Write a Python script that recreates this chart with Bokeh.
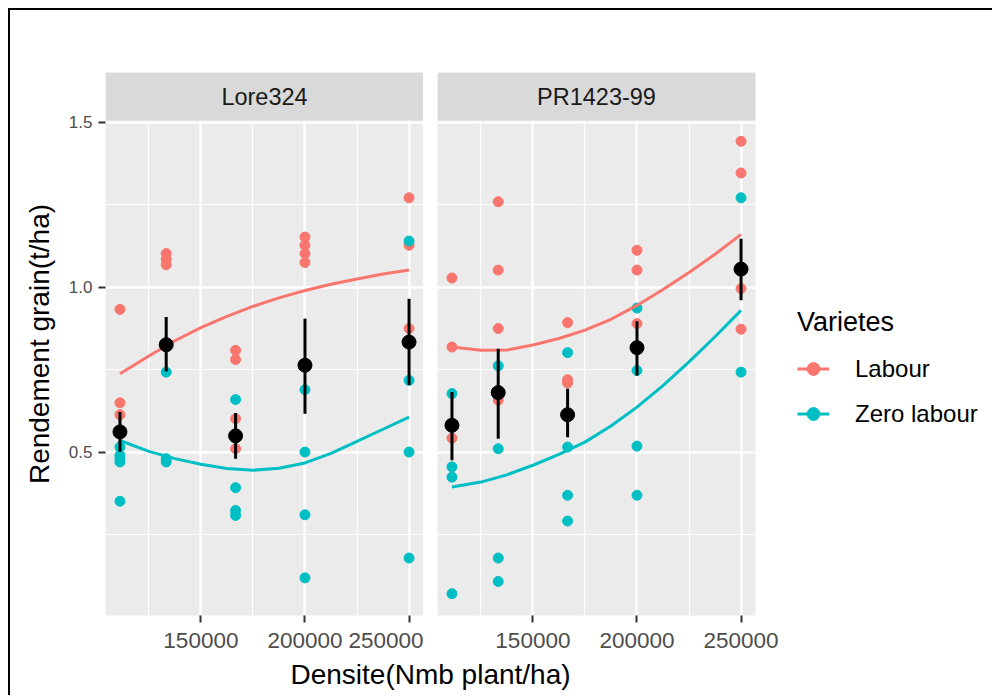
from bokeh.plotting import figure
from bokeh.models import Range1d, FixedTicker, BoxAnnotation, Label, Legend, LegendItem
from bokeh.layouts import row, column
from bokeh.embed import file_html
from bokeh.resources import INLINE

# ---------------- data ----------------
DENS = [111111, 133333, 166667, 200000, 250000]

LORE_LABOUR = [[0.933, 0.650, 0.614],
               [1.102, 1.085, 1.068],
               [0.809, 0.781, 0.602, 0.511],
               [1.152, 1.127, 1.102, 1.075],
               [1.271, 1.127, 0.875]]
LORE_ZERO = [[0.516, 0.491, 0.481, 0.471, 0.352],
             [0.819, 0.743, 0.481, 0.471],
             [0.660, 0.393, 0.324, 0.309],
             [0.690, 0.501, 0.311, 0.120],
             [1.140, 0.718, 0.501, 0.180]]
LORE_MEAN = [0.562, 0.826, 0.550, 0.764, 0.834]
LORE_LO = [0.502, 0.745, 0.481, 0.617, 0.704]
LORE_HI = [0.622, 0.910, 0.619, 0.905, 0.965]

PR_LABOUR = [[1.028, 0.819, 0.543],
             [1.259, 1.052, 0.875, 0.658],
             [0.893, 0.720, 0.710],
             [1.112, 1.052, 0.890],
             [1.442, 1.346, 0.996, 0.873]]
PR_ZERO = [[0.678, 0.456, 0.425, 0.072],
           [0.762, 0.511, 0.180, 0.109],
           [0.802, 0.516, 0.370, 0.292],
           [0.937, 0.748, 0.519, 0.370],
           [1.271, 0.743]]
PR_MEAN = [0.582, 0.681, 0.614, 0.817, 1.055]
PR_LO = [0.476, 0.541, 0.546, 0.733, 0.961]
PR_HI = [0.683, 0.814, 0.693, 0.897, 1.147]

SMOOTH_X = [111111, 125000, 137500, 150000, 162500, 175000, 187500,
            200000, 212500, 225000, 237500, 250000]
LORE_SMOOTH_LABOUR = [0.738, 0.792, 0.838, 0.878, 0.912, 0.942, 0.968,
                      0.990, 1.009, 1.025, 1.040, 1.052]
LORE_SMOOTH_ZERO = [0.536, 0.503, 0.481, 0.464, 0.451, 0.446, 0.452,
                    0.468, 0.497, 0.533, 0.570, 0.607]
PR_SMOOTH_LABOUR = [0.819, 0.809, 0.810, 0.825, 0.845, 0.870, 0.903,
                    0.945, 0.993, 1.045, 1.100, 1.160]
PR_SMOOTH_ZERO = [0.395, 0.410, 0.432, 0.461, 0.494, 0.531, 0.580,
                  0.637, 0.702, 0.774, 0.850, 0.930]

PANELS = ["Lore324", "PR1423-99"]
VARIETES = ["Labour", "Zero labour"]
X_TICKS = [150000, 200000, 250000]
X_TICK_LABELS = ["150000", "200000", "250000"]
X_MINOR = [125000, 175000, 225000]
Y_TICKS = [0.5, 1.0, 1.5]
Y_TICK_LABELS = ["0.5", "1.0", "1.5"]
Y_MINOR = [0.25, 0.75, 1.25]

# ---------------- style / layout ----------------
FONT = "Liberation Sans"
RED = "#F8766D"
TEAL = "#00BFC4"
PANEL_BG = "#EBEBEB"
STRIP_BG = "#D9D9D9"

X_LO, X_HI = 104167, 256944
Y_LO, Y_HI = 0.006, 1.505
FRAME_W = 318
PANEL_H = 495
STRIP_H = 48
FRAME_H = PANEL_H + STRIP_H
TOP_B = 62
BOT_B = 44
Y_TOP = Y_HI + (Y_HI - Y_LO) * STRIP_H / PANEL_H
XPX = (X_HI - X_LO) / FRAME_W
YPX = (Y_TOP - Y_LO) / FRAME_H

# legend placement (px, relative to the legend side panel, bottom-left)
LEG_X = 42
LEG_Y = 179
KEY_W = 32
KEY_H = 45
KEY_BOX_W = 43
LABEL_W = 175


def expand(groups):
    xs, ys = [], []
    for d, vals in zip(DENS, groups):
        for v in vals:
            xs.append(d)
            ys.append(v)
    return xs, ys


def make_panel(name, labour, zero, sm_lab, sm_zero, mean, lo, hi, first):
    left_b = 95 if first else 14
    p = figure(frame_width=FRAME_W, frame_height=FRAME_H,
               x_range=Range1d(X_LO, X_HI), y_range=Range1d(Y_LO, Y_TOP),
               output_backend="svg", toolbar_location=None, title=None,
               min_border_left=left_b, min_border_right=0,
               min_border_top=TOP_B, min_border_bottom=BOT_B,
               background_fill_color=PANEL_BG, border_fill_color="white",
               outline_line_color=None,
               y_axis_location="left" if first else None)
    p.xgrid.ticker = FixedTicker(ticks=X_TICKS, minor_ticks=X_MINOR)
    p.ygrid.ticker = FixedTicker(ticks=Y_TICKS, minor_ticks=Y_MINOR)
    for g in (p.xgrid, p.ygrid):
        g.grid_line_color = "white"
        g.grid_line_width = 2.4
        g.minor_grid_line_color = "white"
        g.minor_grid_line_width = 1.2
    xa = p.xaxis[0]
    xa.ticker = FixedTicker(ticks=X_TICKS)
    xa.major_label_overrides = dict(zip(X_TICKS, X_TICK_LABELS))
    xa.axis_line_color = None
    xa.minor_tick_line_color = None
    xa.major_tick_in = 0
    xa.major_tick_out = 7
    xa.major_tick_line_color = "#333333"
    xa.major_tick_line_width = 2
    xa.major_label_text_font = FONT
    xa.major_label_text_font_size = "22.5px"
    xa.major_label_text_color = "#4D4D4D"
    xa.major_label_standoff = 10
    if first:
        ya = p.yaxis[0]
        ya.ticker = FixedTicker(ticks=Y_TICKS)
        ya.major_label_overrides = dict(zip(Y_TICKS, Y_TICK_LABELS))
        ya.axis_line_color = None
        ya.minor_tick_line_color = None
        ya.major_tick_in = 0
        ya.major_tick_out = 7
        ya.major_tick_line_color = "#333333"
        ya.major_tick_line_width = 2
        ya.major_label_text_font = FONT
        ya.major_label_text_font_size = "17px"
        ya.major_label_text_color = "#4D4D4D"
        ya.major_label_standoff = 6
        ya.axis_label = "Rendement grain(t/ha)"
        ya.axis_label_text_font = FONT
        ya.axis_label_text_font_size = "28px"
        ya.axis_label_text_font_style = "normal"
        ya.axis_label_text_color = "black"
        ya.axis_label_standoff = 11
    # strip
    p.add_layout(BoxAnnotation(left=X_LO, right=X_HI, bottom=Y_HI, top=Y_TOP,
                               fill_color=STRIP_BG, fill_alpha=1.0,
                               line_color=None))
    p.add_layout(Label(x=(X_LO + X_HI) / 2, y=(Y_HI + Y_TOP) / 2, text=name,
                       text_align="center", text_baseline="middle",
                       text_font=FONT, text_font_size="23.5px",
                       text_color="#1A1A1A"))
    lx, ly = expand(labour)
    zx, zy = expand(zero)
    s_lab = p.scatter(lx, ly, size=10, fill_color=RED, line_color=RED)
    s_zero = p.scatter(zx, zy, size=10, fill_color=TEAL, line_color=TEAL)
    l_lab = p.line(SMOOTH_X, sm_lab, line_color=RED, line_width=3)
    l_zero = p.line(SMOOTH_X, sm_zero, line_color=TEAL, line_width=3)
    p.segment(x0=DENS, y0=lo, x1=DENS, y1=hi, line_color="black", line_width=3)
    p.scatter(DENS, mean, size=14, fill_color="black", line_color="black")
    return p, [(l_lab, s_lab), (l_zero, s_zero)]


p1, _ = make_panel(PANELS[0], LORE_LABOUR, LORE_ZERO, LORE_SMOOTH_LABOUR,
                   LORE_SMOOTH_ZERO, LORE_MEAN, LORE_LO, LORE_HI, True)
p2, rends = make_panel(PANELS[1], PR_LABOUR, PR_ZERO, PR_SMOOTH_LABOUR,
                       PR_SMOOTH_ZERO, PR_MEAN, PR_LO, PR_HI, False)

# light grey legend-key background (may be clipped to the frame)
p2.add_layout(BoxAnnotation(left=X_HI + LEG_X * XPX,
                            right=X_HI + (LEG_X + KEY_BOX_W) * XPX,
                            bottom=Y_LO + LEG_Y * YPX,
                            top=Y_LO + (LEG_Y + 2 * KEY_H) * YPX,
                            fill_color="#F2F2F2", fill_alpha=1.0,
                            line_color=None, level="underlay"))

items = [LegendItem(label=lab, renderers=list(r)) for lab, r in zip(VARIETES, rends)]
leg = Legend(items=items, location=(LEG_X, LEG_Y), title="Varietes",
             title_text_font=FONT, title_text_font_size="27px",
             title_text_font_style="normal", title_text_color="black",
             title_standoff=8,
             label_text_font=FONT, label_text_font_size="24px",
             label_text_color="black",
             label_standoff=KEY_BOX_W - KEY_W + 15,
             glyph_width=KEY_W, glyph_height=KEY_H, label_height=KEY_H,
             label_width=LABEL_W,
             spacing=0, padding=0, margin=0,
             border_line_color=None, background_fill_alpha=0)
p2.add_layout(leg, "right")

# x axis title
TW = 840
pt = figure(width=TW, height=36, x_range=Range1d(0, TW), y_range=Range1d(0, 36),
            output_backend="svg", toolbar_location=None, title=None,
            min_border=0, x_axis_location=None, y_axis_location=None,
            outline_line_color=None, background_fill_color="white")
pt.grid.visible = False
pt.add_layout(Label(x=TW / 2, y=21, text="Densite(Nmb plant/ha)",
                    text_align="center", text_baseline="middle",
                    text_font=FONT, text_font_size="28px", text_color="black"))

layout = column(row(p1, p2), pt,
                styles={"margin-left": "8px", "margin-top": "8px",
                        "border-top": "2px solid black",
                        "border-left": "2px solid black"})

open("out.html", "w").write(file_html(layout, INLINE))
